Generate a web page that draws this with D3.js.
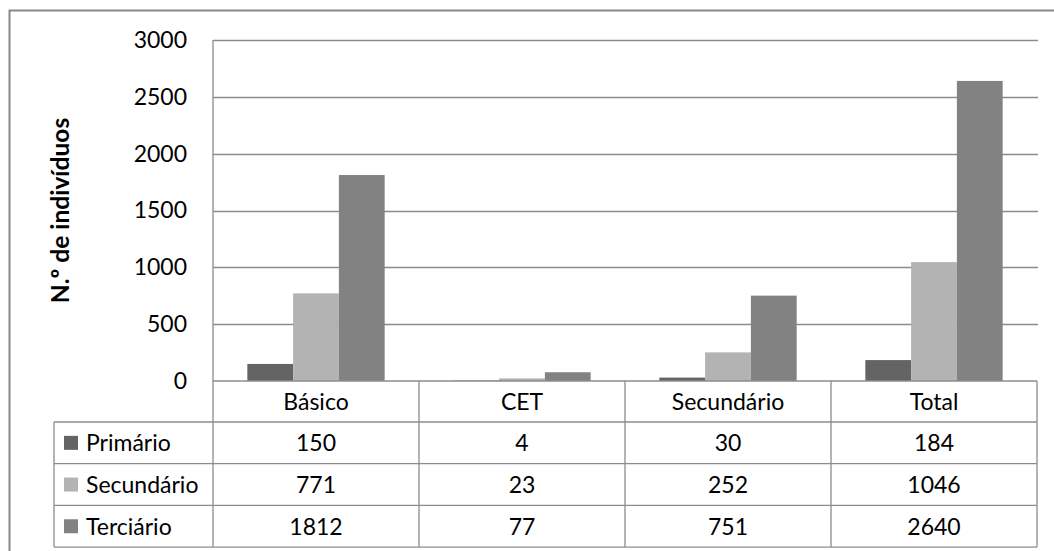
<!DOCTYPE html>
<html>
<head>
<meta charset="utf-8">
<script src="https://cdn.jsdelivr.net/npm/d3@7"></script>
<style>
  html, body { margin: 0; padding: 0; background: #fff; }
  svg { display: block; font-family: Lato, "Open Sans", sans-serif; }
</style>
</head>
<body>
<svg id="chart" width="1054" height="551"></svg>
<script>
// Education level of individuals by economic sector
const categories = ["Básico", "CET", "Secundário", "Total"];
const seriesNames = ["Primário", "Secundário", "Terciário"];
const primario = [150, 4, 30, 184];
const secundario = [771, 23, 252, 1046];
const terciario = [1812, 77, 751, 2640];
const yTicks = [0, 500, 1000, 1500, 2000, 2500, 3000];
const seriesColors = ["#646464", "#b3b3b3", "#828282"];
const yTitle = "N.º de indivíduos";

const series = [primario, secundario, terciario];

const svg = d3.select("#chart");
const gridColor = "#8c8c8c";
const fontSize = 23;

// layout
const plot = { left: 213, right: 1037, top: 40, bottom: 381 };
const rowH = 41.7;
const headerBottom = 422;
const legendLeft = 54;

// outer chart frame
svg.append("rect")
  .attr("x", 9.5).attr("y", 10.5)
  .attr("width", 1100).attr("height", 600)
  .attr("fill", "none").attr("stroke", "#878787").attr("stroke-width", 2);

const x0 = d3.scaleBand().domain(categories).range([plot.left, plot.right]).paddingInner(0).paddingOuter(0);
const bw = x0.bandwidth() / 4.5;
const x1 = d3.scaleBand().domain(seriesNames).range([0, bw * 3]);
const y = d3.scaleLinear().domain([0, 3000]).range([plot.bottom, plot.top]);

// gridlines
svg.append("g").selectAll("line").data(yTicks.filter(d => d > 0)).join("line")
  .attr("x1", plot.left).attr("x2", plot.right + 1)
  .attr("y1", d => Math.round(y(d)) + 0.5).attr("y2", d => Math.round(y(d)) + 0.5)
  .attr("stroke", gridColor).attr("stroke-width", 1.3);

// bars
const gBars = svg.append("g");
categories.forEach((c, ci) => {
  series.forEach((s, si) => {
    gBars.append("rect")
      .attr("x", x0(c) + bw * 0.75 + x1(seriesNames[si]))
      .attr("y", y(s[ci]))
      .attr("width", x1.bandwidth())
      .attr("height", plot.bottom - y(s[ci]))
      .attr("fill", seriesColors[si]);
  });
});

// y axis labels
const yAxis = d3.axisLeft(y).tickValues(yTicks).tickFormat(d3.format("d")).tickSize(0).tickPadding(26);
const gy = svg.append("g").attr("transform", `translate(${plot.left},0)`).call(yAxis);
gy.select(".domain").remove();
gy.selectAll("text").attr("font-size", fontSize).attr("fill", "#000").attr("font-family", "Lato, sans-serif");

// y axis title
svg.append("text")
  .attr("transform", `translate(69,${(plot.top + plot.bottom) / 2}) rotate(-90)`)
  .attr("text-anchor", "middle")
  .attr("font-size", 24.5).attr("font-weight", "bold").attr("fill", "#000")
  .text(yTitle);

// data table
const tbl = svg.append("g").attr("stroke", gridColor).attr("stroke-width", 1.3).attr("fill", "none");
const rowsY = [headerBottom, headerBottom + rowH, headerBottom + 2 * rowH, headerBottom + 3 * rowH];
// axis line + column separators
categories.concat(["_end"]).forEach((c, i) => {
  const xx = i < categories.length ? x0(c) : plot.right;
  tbl.append("line")
    .attr("x1", xx).attr("x2", xx)
    .attr("y1", i === 0 ? plot.top : plot.bottom).attr("y2", rowsY[3])
    .attr("stroke", gridColor);
});
// zero line / header top
tbl.append("line").attr("x1", plot.left).attr("x2", plot.right).attr("y1", plot.bottom).attr("y2", plot.bottom);
// horizontal row lines
rowsY.forEach(ry => {
  tbl.append("line").attr("x1", legendLeft).attr("x2", plot.right).attr("y1", ry).attr("y2", ry);
});
tbl.append("line").attr("x1", legendLeft).attr("x2", legendLeft).attr("y1", rowsY[0]).attr("y2", rowsY[3]);

// header labels
svg.append("g").selectAll("text").data(categories).join("text")
  .attr("x", d => x0(d) + x0.bandwidth() / 2)
  .attr("y", (plot.bottom + headerBottom) / 2)
  .attr("dy", "0.36em")
  .attr("text-anchor", "middle")
  .attr("font-size", fontSize).attr("fill", "#000")
  .text(d => d);

// series rows
series.forEach((s, si) => {
  const cy = rowsY[si] + rowH / 2;
  svg.append("rect")
    .attr("x", 64).attr("y", cy - 7)
    .attr("width", 14).attr("height", 14)
    .attr("fill", seriesColors[si]);
  svg.append("text")
    .attr("x", 86).attr("y", cy).attr("dy", "0.36em")
    .attr("font-size", fontSize).attr("fill", "#000")
    .text(seriesNames[si]);
  svg.append("g").selectAll("text").data(s).join("text")
    .attr("x", (d, i) => x0(categories[i]) + x0.bandwidth() / 2)
    .attr("y", cy).attr("dy", "0.36em")
    .attr("text-anchor", "middle")
    .attr("font-size", fontSize).attr("fill", "#000")
    .text(d => d);
});
</script>
</body>
</html>
